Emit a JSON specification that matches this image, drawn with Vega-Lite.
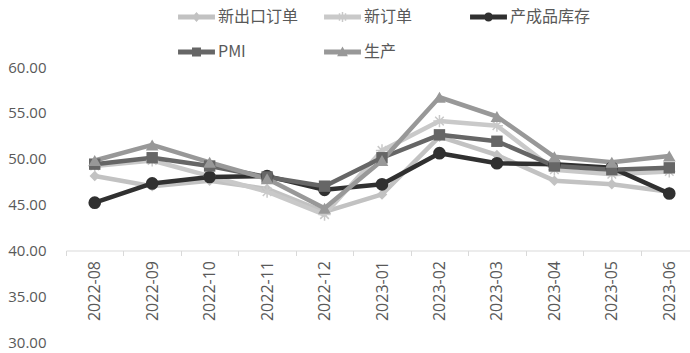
{
  "$schema": "https://vega.github.io/schema/vega-lite/v6.json",
  "width": 632,
  "height": 275,
  "autosize": "none",
  "padding": {"left": 66, "top": 67, "right": 0, "bottom": 11},
  "background": "white",
  "config": {
    "view": {"stroke": null},
    "font": "Open Sans"
  },
  "data": {
    "values": [
      {"month": "2022-08", "series": "新出口订单", "value": 48.1},
      {"month": "2022-09", "series": "新出口订单", "value": 47.0},
      {"month": "2022-10", "series": "新出口订单", "value": 47.6},
      {"month": "2022-11", "series": "新出口订单", "value": 46.7},
      {"month": "2022-12", "series": "新出口订单", "value": 44.2},
      {"month": "2023-01", "series": "新出口订单", "value": 46.1},
      {"month": "2023-02", "series": "新出口订单", "value": 52.4},
      {"month": "2023-03", "series": "新出口订单", "value": 50.4},
      {"month": "2023-04", "series": "新出口订单", "value": 47.6},
      {"month": "2023-05", "series": "新出口订单", "value": 47.2},
      {"month": "2023-06", "series": "新出口订单", "value": 46.4},
      {"month": "2022-08", "series": "新订单", "value": 49.2},
      {"month": "2022-09", "series": "新订单", "value": 49.8},
      {"month": "2022-10", "series": "新订单", "value": 48.1},
      {"month": "2022-11", "series": "新订单", "value": 46.4},
      {"month": "2022-12", "series": "新订单", "value": 43.9},
      {"month": "2023-01", "series": "新订单", "value": 50.9},
      {"month": "2023-02", "series": "新订单", "value": 54.1},
      {"month": "2023-03", "series": "新订单", "value": 53.6},
      {"month": "2023-04", "series": "新订单", "value": 48.8},
      {"month": "2023-05", "series": "新订单", "value": 48.3},
      {"month": "2023-06", "series": "新订单", "value": 48.6},
      {"month": "2022-08", "series": "产成品库存", "value": 45.2},
      {"month": "2022-09", "series": "产成品库存", "value": 47.3},
      {"month": "2022-10", "series": "产成品库存", "value": 48.0},
      {"month": "2022-11", "series": "产成品库存", "value": 48.1},
      {"month": "2022-12", "series": "产成品库存", "value": 46.6},
      {"month": "2023-01", "series": "产成品库存", "value": 47.2},
      {"month": "2023-02", "series": "产成品库存", "value": 50.6},
      {"month": "2023-03", "series": "产成品库存", "value": 49.5},
      {"month": "2023-04", "series": "产成品库存", "value": 49.4},
      {"month": "2023-05", "series": "产成品库存", "value": 49.0},
      {"month": "2023-06", "series": "产成品库存", "value": 46.2},
      {"month": "2022-08", "series": "PMI", "value": 49.4},
      {"month": "2022-09", "series": "PMI", "value": 50.1},
      {"month": "2022-10", "series": "PMI", "value": 49.2},
      {"month": "2022-11", "series": "PMI", "value": 48.0},
      {"month": "2022-12", "series": "PMI", "value": 47.0},
      {"month": "2023-01", "series": "PMI", "value": 50.1},
      {"month": "2023-02", "series": "PMI", "value": 52.6},
      {"month": "2023-03", "series": "PMI", "value": 51.9},
      {"month": "2023-04", "series": "PMI", "value": 49.2},
      {"month": "2023-05", "series": "PMI", "value": 48.8},
      {"month": "2023-06", "series": "PMI", "value": 49.0},
      {"month": "2022-08", "series": "生产", "value": 49.8},
      {"month": "2022-09", "series": "生产", "value": 51.5},
      {"month": "2022-10", "series": "生产", "value": 49.6},
      {"month": "2022-11", "series": "生产", "value": 47.8},
      {"month": "2022-12", "series": "生产", "value": 44.6},
      {"month": "2023-01", "series": "生产", "value": 49.8},
      {"month": "2023-02", "series": "生产", "value": 56.7},
      {"month": "2023-03", "series": "生产", "value": 54.6},
      {"month": "2023-04", "series": "生产", "value": 50.2},
      {"month": "2023-05", "series": "生产", "value": 49.6},
      {"month": "2023-06", "series": "生产", "value": 50.3}
    ]
  },
  "encoding": {
    "x": {
      "field": "month",
      "type": "nominal",
      "sort": null,
      "scale": {"paddingInner": 0, "paddingOuter": 0},
      "axis": {
        "title": null,
        "offset": -91.5,
        "labelAngle": -90,
        "labelFontSize": 16,
        "labelColor": "#595959",
        "labelFont": "Open Sans",
        "labelPadding": 5,
        "domainColor": "#d9d9d9",
        "domainWidth": 1,
        "tickColor": "#d9d9d9",
        "tickSize": 5,
        "tickBand": "extent",
        "grid": false
      }
    },
    "y": {
      "field": "value",
      "type": "quantitative",
      "scale": {"domain": [30, 60], "nice": false, "zero": false},
      "axis": {
        "title": null,
        "values": [30, 35, 40, 45, 50, 55, 60],
        "format": ".2f",
        "grid": false,
        "domain": false,
        "ticks": false,
        "tickSize": 0,
        "labelPadding": 20,
        "labelFontSize": 15,
        "labelColor": "#595959",
        "labelFont": "Open Sans"
      }
    },
    "color": {
      "field": "series",
      "type": "nominal",
      "scale": {
        "domain": ["新出口订单", "新订单", "产成品库存", "PMI", "生产"],
        "range": ["#c2c2c2", "#c9c9c9", "#303030", "#666666", "#989898"]
      },
      "legend": {
        "title": null,
        "orient": "none",
        "legendX": 115.5,
        "legendY": -65,
        "direction": "horizontal",
        "columns": 3,
        "gridAlign": "all",
        "columnPadding": 25,
        "rowPadding": 12,
        "padding": 0,
        "symbolType": "M-1.23,-0.16H1.23V0.16H-1.23Z",
        "symbolSize": 900,
        "symbolStrokeWidth": 0,
        "symbolOpacity": 1,
        "labelOffset": 6.5,
        "labelFont": "Noto Sans CJK SC",
        "labelFontSize": 16,
        "labelColor": "#595959",
        "labelLimit": 200,
        "encode": {
          "symbols": {
            "update": {
              "shape": {"signal": "datum.value === '新出口订单' ? 'M-1.23,-0.16H1.23V0.16H-1.23Z M0,-0.33L0.3,0L0,0.33L-0.3,0Z' : datum.value === '新订单' ? 'M-1.23,-0.16H1.23V0.16H-1.23Z M-0.05,-0.33H0.05V0.33H-0.05Z M-0.25,-0.25H-0.15V0.25H-0.25Z M0.15,-0.25H0.25V0.25H0.15Z' : datum.value === '产成品库存' ? 'M-1.23,-0.16H1.23V0.16H-1.23Z M0.3,0A0.3,0.3 0 1,1 -0.3,0A0.3,0.3 0 1,1 0.3,0Z' : datum.value === 'PMI' ? 'M-1.23,-0.16H1.23V0.16H-1.23Z M-0.3,-0.3H0.3V0.3H-0.3Z' : 'M-1.23,-0.16H1.23V0.16H-1.23Z M0,-0.36L0.36,0.28H-0.36Z'"},
              "fill": {"signal": "scale('color', datum.value)"}
            }
          }
        }
      }
    }
  },
  "layer": [
    {
      "mark": {"type": "line", "strokeWidth": 4.5, "strokeJoin": "round"}
    },
    {
      "transform": [{"filter": "datum.series === '新出口订单'"}],
      "mark": {"type": "point", "filled": true, "opacity": 1, "shape": "diamond", "size": 110}
    },
    {
      "transform": [{"filter": "datum.series === '新订单'"}],
      "mark": {"type": "point", "filled": false, "opacity": 1, "shape": "M-1,0H1M0,-1V1M-0.7,-0.7L0.7,0.7M-0.7,0.7L0.7,-0.7", "size": 150, "strokeWidth": 1.5}
    },
    {
      "transform": [{"filter": "datum.series === '产成品库存'"}],
      "mark": {"type": "point", "filled": true, "opacity": 1, "shape": "circle", "size": 160}
    },
    {
      "transform": [{"filter": "datum.series === 'PMI'"}],
      "mark": {"type": "point", "filled": true, "opacity": 1, "shape": "square", "size": 130}
    },
    {
      "transform": [{"filter": "datum.series === '生产'"}],
      "mark": {"type": "point", "filled": true, "opacity": 1, "shape": "triangle-up", "size": 160}
    }
  ]
}
